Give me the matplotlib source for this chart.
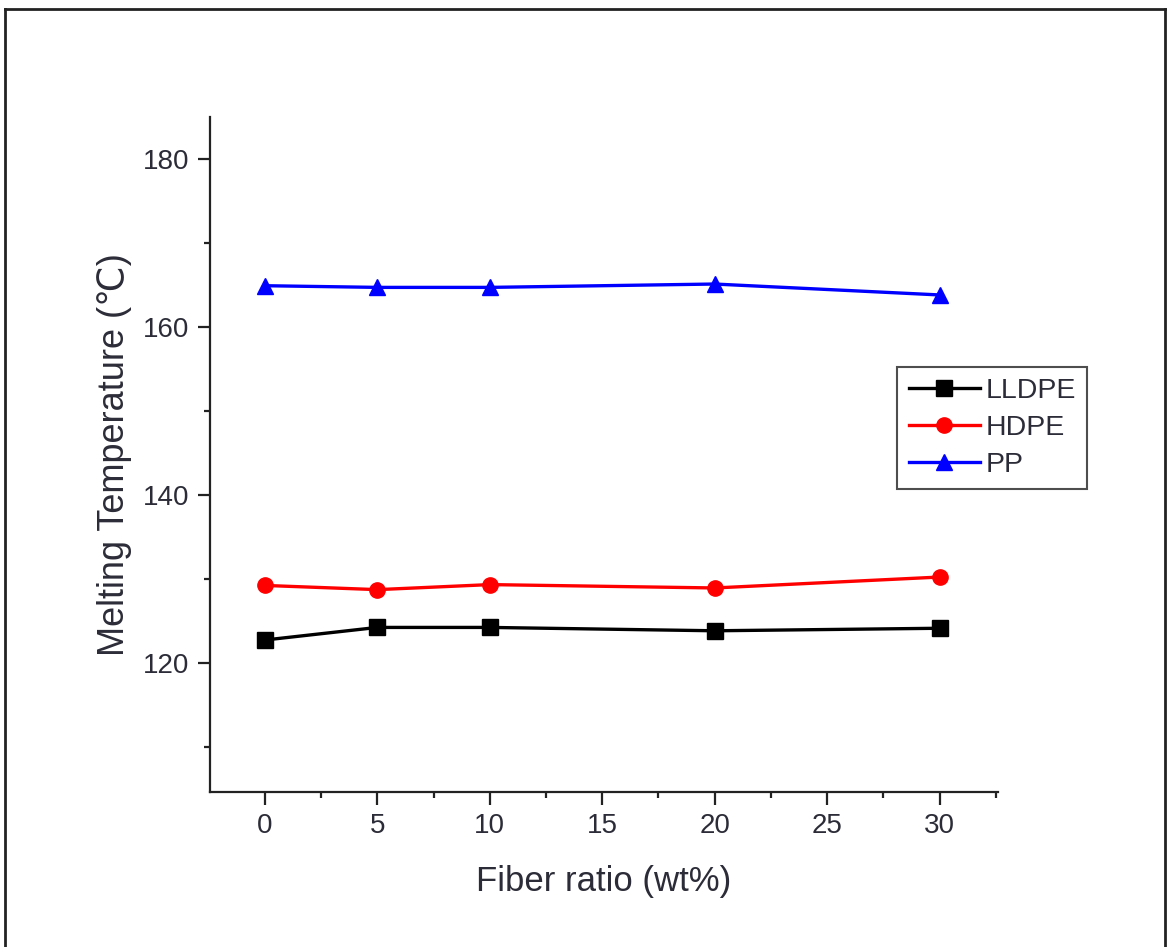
import matplotlib
matplotlib.use("Agg")
import matplotlib.pyplot as plt
from matplotlib.lines import Line2D
from matplotlib.ticker import MultipleLocator

# fiber ratio (wt%)
fiber = [0, 5, 10, 20, 30]

lldpe = [122.7, 124.2, 124.2, 123.8, 124.1]
hdpe = [129.2, 128.7, 129.3, 128.9, 130.2]
pp = [164.9, 164.7, 164.7, 165.1, 163.8]

series_names = ["LLDPE", "HDPE", "PP"]
TXT = "#2c2c38"

plt.rcParams["font.family"] = ["Liberation Sans", "DejaVu Sans"]

fig = plt.figure(figsize=(11.7, 9.47), dpi=100, facecolor="white")
ax = fig.add_axes([0.1795, 0.1637, 0.853 - 0.1795, 0.8765 - 0.1637])

ax.plot(fiber, lldpe, color="black", lw=2.4, marker="s", ms=11, label=series_names[0])
ax.plot(fiber, hdpe, color="#ff0000", lw=2.4, marker="o", ms=11, label=series_names[1])
ax.plot(fiber, pp, color="#0000ff", lw=2.4, marker="^", ms=12, label=series_names[2])

ax.set_xlim(-2.44, 32.6)
ax.set_ylim(104.6, 185)

ax.xaxis.set_major_locator(MultipleLocator(5))
ax.xaxis.set_minor_locator(MultipleLocator(2.5))
ax.yaxis.set_major_locator(MultipleLocator(20))
ax.yaxis.set_minor_locator(MultipleLocator(10))

for s in ["top", "right"]:
    ax.spines[s].set_visible(False)
for s in ["left", "bottom"]:
    ax.spines[s].set_linewidth(1.6)
    ax.spines[s].set_color("#222222")

ax.tick_params(which="major", length=9, width=1.6, color="#222222",
               labelsize=20, labelcolor=TXT, pad=6)
ax.tick_params(which="minor", length=4.5, width=1.6, color="#222222")

ax.set_xlabel("Fiber ratio (wt%)", fontsize=25, color=TXT, labelpad=19)
ax.set_ylabel("Melting Temperature (\u2103)", fontsize=26, color=TXT, labelpad=8)

leg = ax.legend(loc="upper left", bbox_to_anchor=(0.872, 0.63), fontsize=20.5,
                frameon=True, fancybox=False, edgecolor="#222222",
                handlelength=2.5, handletextpad=0.2, borderpad=0.4,
                labelspacing=0.38, borderaxespad=0)
leg.get_frame().set_linewidth(1.5)
for t in leg.get_texts():
    t.set_color(TXT)

# outer frame around the figure
fc = "#222222"
fig.add_artist(Line2D([0.004, 0.004], [0.0, 0.99], transform=fig.transFigure, color=fc, lw=2))
fig.add_artist(Line2D([0.004, 0.996], [0.99, 0.99], transform=fig.transFigure, color=fc, lw=2))
fig.add_artist(Line2D([0.996, 0.996], [0.0, 0.99], transform=fig.transFigure, color=fc, lw=2))

fig.savefig("out.png", dpi=100, facecolor="white")
